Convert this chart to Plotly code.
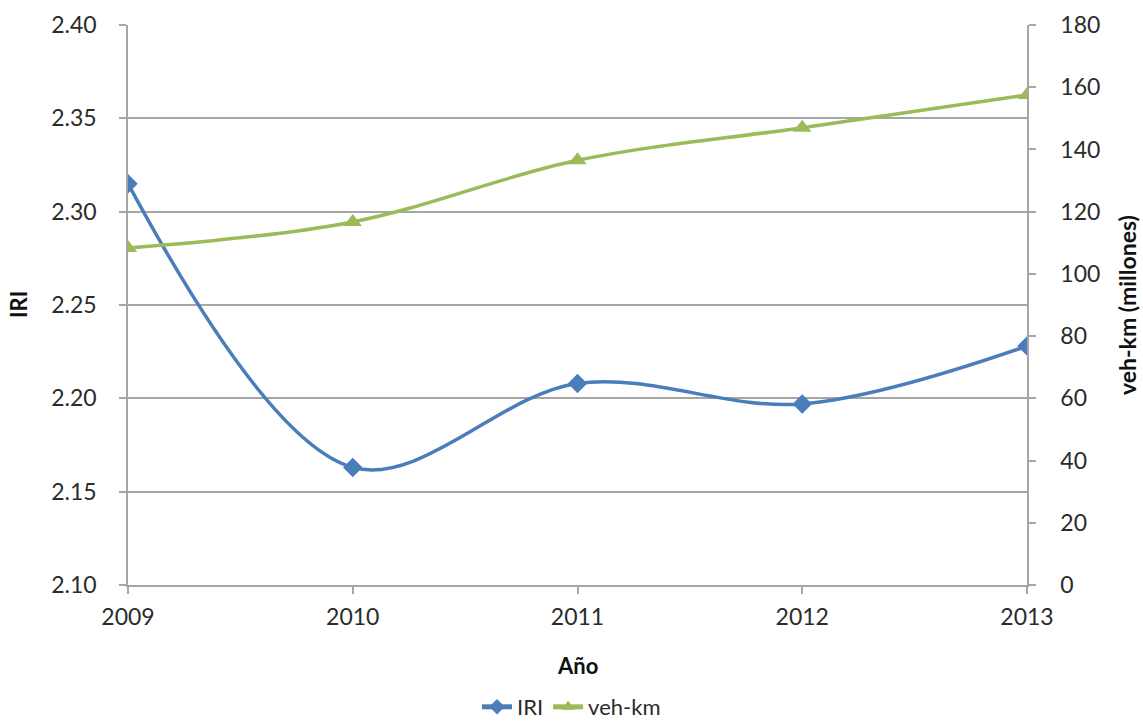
import plotly.graph_objects as go

# Data
years = [2009, 2010, 2011, 2012, 2013]
iri = [2.315, 2.163, 2.208, 2.197, 2.228]
veh_km = [108.3, 116.7, 136.5, 147.0, 157.5]

iri_ticks = [2.10, 2.15, 2.20, 2.25, 2.30, 2.35, 2.40]
veh_ticks = [0, 20, 40, 60, 80, 100, 120, 140, 160, 180]

BLUE = "#4a7ebb"
GREEN = "#9bbb59"
TEXT = "#2b2b2b"
GRID = "#a6a6a6"
FONT = "Lato"

FIG_W, FIG_H = 1143, 724
PLOT_W = FIG_W - 128 - 116
PLOT_H = FIG_H - 25 - 139

fig = go.Figure()

fig.add_trace(go.Scatter(
    x=years, y=iri, name="IRI", mode="lines+markers",
    line=dict(color=BLUE, width=3.5, shape="spline", smoothing=1.0),
    marker=dict(symbol="diamond", size=15, color=BLUE),
    yaxis="y",
))
fig.add_trace(go.Scatter(
    x=years, y=veh_km, name="veh-km", mode="lines+markers",
    line=dict(color=GREEN, width=3.5, shape="spline", smoothing=1.0),
    marker=dict(symbol="triangle-up", size=16, color=GREEN),
    yaxis="y2",
))

fig.update_layout(
    width=FIG_W, height=FIG_H,
    margin=dict(l=128, r=116, t=25, b=139, autoexpand=False),
    paper_bgcolor="white", plot_bgcolor="white",
    font=dict(family=FONT, size=23, color=TEXT),
    showlegend=True,
    legend=dict(orientation="h", x=0.5, xanchor="center", xref="container",
                y=(FIG_H - 707) / FIG_H, yanchor="middle", yref="container",
                font=dict(size=22, color=TEXT), tracegroupgap=0,
                itemsizing="constant"),
    xaxis=dict(
        range=[2009, 2013], tickmode="array", tickvals=years,
        ticktext=[str(y) for y in years],
        showgrid=False, showline=True, linecolor=GRID, linewidth=1.5,
        ticks="outside", ticklen=7, tickcolor=GRID, tickwidth=1.5,
        zeroline=False, ticklabelstandoff=4, automargin=False,
    ),
    yaxis=dict(
        range=[2.10, 2.40], tickmode="array", tickvals=iri_ticks,
        ticktext=[f"{v:.2f}" for v in iri_ticks],
        showgrid=True, gridcolor=GRID, gridwidth=1.5,
        showline=True, linecolor=GRID, linewidth=1.5,
        ticks="outside", ticklen=7, tickcolor=GRID, tickwidth=1.5,
        zeroline=False, ticklabelstandoff=18, automargin=False,
    ),
    yaxis2=dict(
        range=[0, 180], tickmode="array", tickvals=veh_ticks,
        overlaying="y", side="right", showgrid=False,
        showline=True, linecolor=GRID, linewidth=1.5,
        ticks="outside", ticklen=7, tickcolor=GRID, tickwidth=1.5,
        zeroline=False, ticklabelstandoff=20, automargin=False,
    ),
    annotations=[
        dict(text="<b>Año</b>", xref="paper", yref="paper", x=0.5, y=-80 / PLOT_H,
             xanchor="center", yanchor="middle", showarrow=False,
             font=dict(size=22, color="#111111")),
        dict(text="<b>IRI</b>", xref="paper", yref="paper", x=-110 / PLOT_W, y=0.5,
             xanchor="center", yanchor="middle", textangle=-90, showarrow=False,
             font=dict(size=22, color="#111111")),
        dict(text="<b>veh-km (millones)</b>", xref="paper", yref="paper",
             x=1 + 100 / PLOT_W, y=0.5, xanchor="center", yanchor="middle",
             textangle=-90, showarrow=False, font=dict(size=23, color="#111111")),
    ],
)

fig.write_html("out.html")
